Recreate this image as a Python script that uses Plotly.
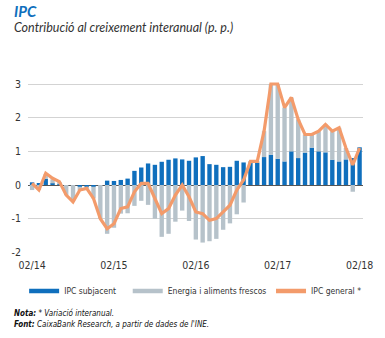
import plotly.graph_objects as go

# ---------------- data ----------------
months = ["02/14", "03/14", "04/14", "05/14", "06/14", "07/14", "08/14", "09/14", "10/14", "11/14", "12/14", "01/15",
          "02/15", "03/15", "04/15", "05/15", "06/15", "07/15", "08/15", "09/15", "10/15", "11/15", "12/15", "01/16",
          "02/16", "03/16", "04/16", "05/16", "06/16", "07/16", "08/16", "09/16", "10/16", "11/16", "12/16", "01/17",
          "02/17", "03/17", "04/17", "05/17", "06/17", "07/17", "08/17", "09/17", "10/17", "11/17", "12/17", "01/18",
          "02/18"]

ipc_subjacent = [0.08, 0.03, 0.18, 0.05, 0.02, 0.00, 0.00, -0.05, -0.05, -0.05, 0.00, 0.13,
                 0.12, 0.15, 0.19, 0.42, 0.52, 0.64, 0.60, 0.69, 0.75, 0.79, 0.76, 0.72,
                 0.82, 0.86, 0.62, 0.60, 0.53, 0.54, 0.72, 0.67, 0.67, 0.66, 0.83, 0.90,
                 0.78, 0.70, 1.00, 0.80, 0.96, 1.11, 1.00, 0.97, 0.75, 0.70, 0.76, 0.80,
                 1.12]

energia_aliments = [-0.15, -0.15, 0.15, 0.12, 0.07, -0.30, -0.48, -0.12, -0.06, -0.35, -1.00, -1.45,
                    -1.27, -0.85, -0.84, -0.62, -0.47, -0.59, -1.00, -1.54, -1.45, -1.09, -0.76, -1.07,
                    -1.62, -1.71, -1.67, -1.60, -1.33, -1.14, -0.87, -0.52, 0.03, 0.04, 0.77, 2.10,
                    2.22, 1.60, 1.60, 1.15, 0.54, 0.39, 0.60, 0.83, 0.85, 1.00, 0.34, -0.20,
                    0.00]

ipc_general = [0.05, -0.15, 0.35, 0.20, 0.10, -0.30, -0.50, -0.15, -0.10, -0.40, -1.00, -1.30,
               -1.15, -0.70, -0.65, -0.20, 0.05, 0.05, -0.40, -0.85, -0.70, -0.30, 0.00, -0.35,
               -0.80, -0.85, -1.05, -1.00, -0.80, -0.60, -0.15, 0.15, 0.70, 0.70, 1.60, 3.00,
               3.00, 2.30, 2.60, 1.95, 1.50, 1.50, 1.60, 1.80, 1.60, 1.70, 1.10, 0.60,
               1.10]

x_tick_labels = ["02/14", "02/15", "02/16", "02/17", "02/18"]
y_tick_values = [-2, -1, 0, 1, 2, 3]
y_tick_labels = ["-2", "-1", "0", "1", "2", "3"]

series_names = ["IPC subjacent", "Energia i aliments frescos", "IPC general *"]

# ---------------- style ----------------
BLUE = "#0f6fbd"
GREY = "#b6c2ca"
ORANGE = "#f39b6b"
TEXT = "#333333"
NARROW = "Liberation Sans Narrow, Arial Narrow, DejaVu Sans Condensed, sans-serif"
SANS = "Lato, Open Sans, sans-serif"

W, H = 385, 338
ML, MR, MT, MB = 22, 17, 82, 85
PW = W - ML - MR
PH = H - MT - MB


def xp(px):
    return (px - ML) / PW


def yp(py):
    return (H - MB - py) / PH


fig = go.Figure()

fig.add_trace(go.Bar(x=months, y=ipc_subjacent, name=series_names[0], marker_color=BLUE,
                     marker_line_width=0, showlegend=False))
fig.add_trace(go.Bar(x=months, y=energia_aliments, name=series_names[1], marker_color=GREY,
                     marker_line_width=0, showlegend=False))
fig.add_trace(go.Scatter(x=months, y=ipc_general, name=series_names[2], mode="lines",
                         line=dict(color=ORANGE, width=3.2), showlegend=False))

# legend entries (one legend each, so they can be placed like the original)
legend_cols = [BLUE, GREY, ORANGE]
legend_keys = ["legend", "legend2", "legend3"]
for name, col, key in zip(series_names, legend_cols, legend_keys):
    fig.add_trace(go.Scatter(x=[None], y=[None], mode="lines", name=name,
                             line=dict(color=col, width=4.5), legend=key, showlegend=True))

leg_common = dict(orientation="h", yanchor="middle", xanchor="left", bgcolor="rgba(0,0,0,0)",
                  font=dict(family=NARROW, size=8.5, color=TEXT), borderwidth=0)

fig.update_layout(
    width=W, height=H,
    margin=dict(l=ML, r=MR, t=MT, b=MB, pad=0),
    paper_bgcolor="white", plot_bgcolor="white",
    barmode="relative", bargap=0.36,
    legend=dict(x=xp(18), y=yp(291), **leg_common),
    legend2=dict(x=xp(125), y=yp(291), **leg_common),
    legend3=dict(x=xp(273), y=yp(291), **leg_common),
    xaxis=dict(type="category", range=[-0.6, 48.5], tickmode="array", tickvals=x_tick_labels,
               ticktext=x_tick_labels, showgrid=False, showline=False, zeroline=False, ticks="",
               tickfont=dict(family=NARROW, size=10.5, color=TEXT), ticklabelstandoff=4),
    yaxis=dict(range=[-2.02, 3.06], tickmode="array", tickvals=y_tick_values, ticktext=y_tick_labels,
               showgrid=True, gridcolor="#d3d3d3", gridwidth=1, zeroline=True, zerolinecolor="#555555",
               zerolinewidth=1, showline=False, ticks="",
               tickfont=dict(family=NARROW, size=10.5, color=TEXT), ticklabelstandoff=6),
    showlegend=True,
)

annotations = [
    dict(text="<b><i>IPC</i></b>", x=xp(5), y=yp(11), font=dict(family=SANS, size=15, color=BLUE)),
    dict(text="<i>Contribució al creixement interanual (p. p.)</i>", x=xp(5), y=yp(28),
         font=dict(family=SANS, size=12.5, color=TEXT)),
    dict(text="<b><i>Nota:</i></b><i> * Variació interanual.</i>", x=xp(5), y=yp(313),
         font=dict(family=NARROW, size=8, color="#111111")),
    dict(text="<b><i>Font:</i></b><i> CaixaBank Research, a partir de dades de l'INE.</i>", x=xp(5), y=yp(324),
         font=dict(family=NARROW, size=8, color="#111111")),
]
for a in annotations:
    fig.add_annotation(xref="paper", yref="paper", xanchor="left", yanchor="middle",
                       showarrow=False, **a)

fig.write_html("out.html")
